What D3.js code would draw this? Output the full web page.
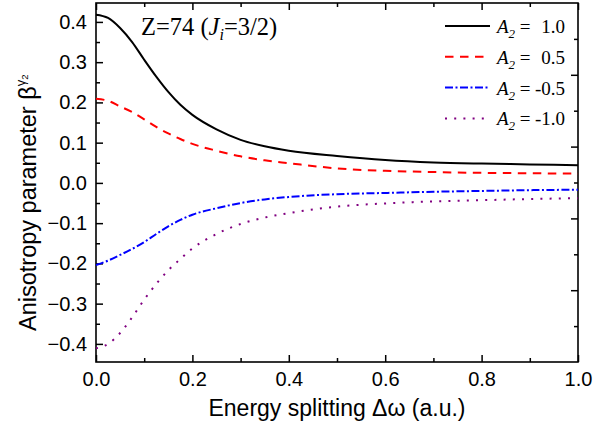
<!DOCTYPE html>
<html>
<head>
<meta charset="utf-8">
<script src="https://cdn.jsdelivr.net/npm/d3@7"></script>
<style>
  html, body { margin: 0; padding: 0; background: #fff; }
  svg { display: block; }
</style>
</head>
<body>
<svg id="chart" width="609" height="427"></svg>
<script>
// Energy splitting (a.u.) sample points
const omega = [0, 0.025, 0.05, 0.075, 0.1, 0.125, 0.15, 0.175, 0.2, 0.25, 0.3, 0.35, 0.4, 0.5, 0.6, 0.7, 0.8, 0.9, 1.0];

// Anisotropy parameter for each A2 value
const betaA2p10 = [0.418, 0.410, 0.385, 0.350, 0.306, 0.264, 0.226, 0.194, 0.169, 0.133, 0.107, 0.091, 0.080, 0.067, 0.057, 0.051, 0.048, 0.046, 0.044];
const betaA2p05 = [0.209, 0.204, 0.190, 0.176, 0.158, 0.139, 0.123, 0.109, 0.097, 0.080, 0.066, 0.056, 0.049, 0.036, 0.030, 0.027, 0.025, 0.024, 0.023];
const betaA2m05 = [-0.204, -0.193, -0.179, -0.164, -0.147, -0.127, -0.108, -0.092, -0.079, -0.063, -0.050, -0.041, -0.035, -0.028, -0.025, -0.022, -0.020, -0.018, -0.017];
const betaA2m10 = [-0.411, -0.400, -0.373, -0.334, -0.290, -0.251, -0.217, -0.189, -0.163, -0.127, -0.102, -0.086, -0.075, -0.059, -0.051, -0.046, -0.043, -0.040, -0.038];

const seriesValues = [betaA2p10, betaA2p05, betaA2m05, betaA2m10];
const seriesLabels = ["1.0", "0.5", "-0.5", "-1.0"];

// Tick values
const xMajorTicks = [0, 0.2, 0.4, 0.6, 0.8, 1.0];
const xMinorTicks = [0.1, 0.3, 0.5, 0.7, 0.9];
const yMajorTicks = [-0.4, -0.3, -0.2, -0.1, 0, 0.1, 0.2, 0.3, 0.4];
const yMinorTicks = [-0.35, -0.25, -0.15, -0.05, 0.05, 0.15, 0.25, 0.35];
const rightMajorTicks = [-0.3, -0.1, 0.1, 0.3];
const rightMinorTicks = [-0.4, -0.2, 0, 0.2, 0.4];

const styles = [
  { color: "#000000", dash: null },
  { color: "#ff0000", dash: "8.5,6.5" },
  { color: "#0000ff", dash: "8,2.5,2,2.5" },
  { color: "#800080", dash: "2,7.2" }
];

const svg = d3.select("#chart");
const L = 96, R = 578, T = 3, B = 362;

const x = d3.scaleLinear().domain([0, 1]).range([L, R]);
const y = d3.scaleLinear().domain([-0.445, 0.447]).range([B, T]);
const yRight = d3.scaleLinear().domain([-0.5, 0.5]).range([B, T]);

const sans = "'Liberation Sans', Arial, sans-serif";
const serif = "'Liberation Serif', 'Times New Roman', serif";

function styleAxis(g) {
  g.select(".domain").remove();
  g.selectAll(".tick line").attr("stroke", "#000").attr("stroke-width", 1.5);
  g.selectAll(".tick text").attr("fill", "#000").attr("font-family", sans).attr("font-size", 20);
}

// Bottom axis
svg.append("g").attr("transform", `translate(0,${B})`)
  .call(d3.axisBottom(x).tickValues(xMajorTicks).tickSize(-7).tickPadding(10).tickFormat(d3.format(".1f")))
  .call(styleAxis);
svg.append("g").attr("transform", `translate(0,${B})`)
  .call(d3.axisBottom(x).tickValues(xMinorTicks).tickSize(-4).tickFormat(""))
  .call(styleAxis);
// Top axis
svg.append("g").attr("transform", `translate(0,${T})`)
  .call(d3.axisTop(x).tickValues(xMajorTicks).tickSize(-7).tickFormat(""))
  .call(styleAxis);
svg.append("g").attr("transform", `translate(0,${T})`)
  .call(d3.axisTop(x).tickValues(xMinorTicks).tickSize(-4).tickFormat(""))
  .call(styleAxis);
// Left axis
svg.append("g").attr("transform", `translate(${L},0)`)
  .call(d3.axisLeft(y).tickValues(yMajorTicks).tickSize(-7).tickPadding(9).tickFormat(d3.format(".1f")))
  .call(styleAxis);
svg.append("g").attr("transform", `translate(${L},0)`)
  .call(d3.axisLeft(y).tickValues(yMinorTicks).tickSize(-4).tickFormat(""))
  .call(styleAxis);
// Right axis
svg.append("g").attr("transform", `translate(${R},0)`)
  .call(d3.axisRight(yRight).tickValues(rightMajorTicks).tickSize(-7).tickFormat(""))
  .call(styleAxis);
svg.append("g").attr("transform", `translate(${R},0)`)
  .call(d3.axisRight(yRight).tickValues(rightMinorTicks).tickSize(-4).tickFormat(""))
  .call(styleAxis);

// Frame
svg.append("rect")
  .attr("x", L).attr("y", T).attr("width", R - L).attr("height", B - T)
  .attr("fill", "none").attr("stroke", "#000").attr("stroke-width", 1.6);

// Curves
const line = d3.line()
  .x(d => x(d[0]))
  .y(d => y(d[1]))
  .curve(d3.curveMonotoneX);

seriesValues.forEach((vals, i) => {
  const pts = omega.map((w, j) => [w, vals[j]]);
  svg.append("path")
    .datum(pts)
    .attr("d", line)
    .attr("fill", "none")
    .attr("stroke", styles[i].color)
    .attr("stroke-width", 2)
    .attr("stroke-dasharray", styles[i].dash);
});

// Title
const title = svg.append("text")
  .attr("x", 141).attr("y", 35)
  .attr("font-family", serif).attr("font-size", 24.5).attr("fill", "#000");
title.append("tspan").text("Z=74 (");
title.append("tspan").attr("font-style", "italic").text("J");
title.append("tspan").attr("font-style", "italic").attr("font-size", 16).attr("dy", 5).text("i");
title.append("tspan").attr("dy", -5).text("=3/2)");

// Legend
const legendX0 = 445, legendX1 = 490, legendY0 = 26, legendStep = 30.8;
seriesLabels.forEach((lab, i) => {
  const ly = legendY0 + i * legendStep;
  svg.append("line")
    .attr("x1", legendX0).attr("x2", legendX1)
    .attr("y1", ly).attr("y2", ly)
    .attr("stroke", styles[i].color)
    .attr("stroke-width", 2)
    .attr("stroke-dasharray", styles[i].dash);
  const t = svg.append("text")
    .attr("x", 497).attr("y", ly + 7)
    .attr("font-family", serif).attr("font-size", 19).attr("fill", "#000");
  t.append("tspan").attr("font-style", "italic").text("A");
  t.append("tspan").attr("font-style", "italic").attr("font-size", 13).attr("dy", 5).text("2");
  t.append("tspan").attr("dy", -5).text(" =");
  svg.append("text")
    .attr("x", 565).attr("y", ly + 7)
    .attr("text-anchor", "end")
    .attr("font-family", serif).attr("font-size", 19).attr("fill", "#000")
    .text(lab);
});

// Axis titles
svg.append("text")
  .attr("x", (L + R) / 2).attr("y", 416)
  .attr("text-anchor", "middle")
  .attr("font-family", sans).attr("font-size", 23).attr("fill", "#000")
  .text("Energy splitting \u0394\u03c9 (a.u.)");

const yt = svg.append("text")
  .attr("transform", "translate(36,331) rotate(-90)")
  .attr("text-anchor", "start")
  .attr("font-family", sans).attr("font-size", 23.5).attr("fill", "#000");
yt.append("tspan").text("Anisotropy parameter \u03b2");
yt.append("tspan").attr("font-size", 13).attr("dy", -11).text("\u03b3");
yt.append("tspan").attr("font-size", 9.5).attr("dy", 3).text("2");
</script>
</body>
</html>
